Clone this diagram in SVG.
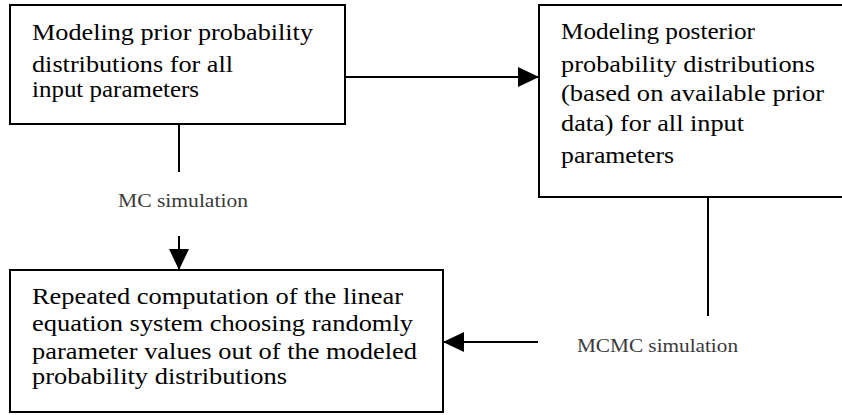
<svg xmlns="http://www.w3.org/2000/svg" width="842" height="415" viewBox="0 0 842 415">
  <style>
    .box { fill: #ffffff; stroke: #000000; stroke-width: 2; }
    .t { font-family: "Liberation Serif", "Times New Roman", serif; font-size: 23px; fill: #000000; }
    .lbl { font-family: "Liberation Serif", "Times New Roman", serif; font-size: 19.5px; fill: #3a3a3a; }
    .conn { stroke: #000000; stroke-width: 2; fill: none; }
  </style>
  <defs>
    <marker id="arrow" markerUnits="userSpaceOnUse" markerWidth="22" markerHeight="21" refX="21" refY="10" orient="auto">
      <path d="M0,0 L21,10 L0,20 Z" fill="#000000"/>
    </marker>
  </defs>
  <rect x="0" y="0" width="842" height="415" fill="#ffffff"/>

  <g id="node-prior">
    <rect class="box" x="10" y="5" width="335" height="119"/>
    <text class="t" x="32" y="40" textLength="281" lengthAdjust="spacingAndGlyphs">Modeling prior probability</text>
    <text class="t" x="32" y="72" textLength="201" lengthAdjust="spacingAndGlyphs">distributions for all</text>
    <text class="t" x="32" y="97" textLength="167" lengthAdjust="spacingAndGlyphs">input parameters</text>
  </g>

  <g id="node-posterior">
    <rect class="box" x="539" y="5" width="310" height="192"/>
    <text class="t" x="561" y="39" textLength="194" lengthAdjust="spacingAndGlyphs">Modeling posterior</text>
    <text class="t" x="561" y="72" textLength="254" lengthAdjust="spacingAndGlyphs">probability distributions</text>
    <text class="t" x="561" y="101" textLength="263" lengthAdjust="spacingAndGlyphs">(based on available prior</text>
    <text class="t" x="561" y="131" textLength="183" lengthAdjust="spacingAndGlyphs">data) for all input</text>
    <text class="t" x="561" y="163" textLength="113" lengthAdjust="spacingAndGlyphs">parameters</text>
  </g>

  <g id="node-computation">
    <rect class="box" x="10" y="270" width="433" height="142"/>
    <text class="t" x="32" y="304" textLength="371" lengthAdjust="spacingAndGlyphs">Repeated computation of the linear</text>
    <text class="t" x="32" y="331" textLength="381" lengthAdjust="spacingAndGlyphs">equation system choosing randomly</text>
    <text class="t" x="32" y="359" textLength="385" lengthAdjust="spacingAndGlyphs">parameter values out of the modeled</text>
    <text class="t" x="32" y="384" textLength="255" lengthAdjust="spacingAndGlyphs">probability distributions</text>
  </g>

  <g id="connectors">
    <line class="conn" x1="345" y1="77" x2="539" y2="77" marker-end="url(#arrow)"/>
    <line class="conn" x1="179" y1="124" x2="179" y2="172"/>
    <text class="lbl" x="118" y="207" textLength="130" lengthAdjust="spacingAndGlyphs">MC simulation</text>
    <line class="conn" x1="179" y1="236" x2="179" y2="270" marker-end="url(#arrow)"/>
    <line class="conn" x1="708" y1="197" x2="708" y2="316"/>
    <text class="lbl" x="577" y="352" textLength="161" lengthAdjust="spacingAndGlyphs">MCMC simulation</text>
    <line class="conn" x1="538" y1="342" x2="443" y2="342" marker-end="url(#arrow)"/>
  </g>
</svg>
